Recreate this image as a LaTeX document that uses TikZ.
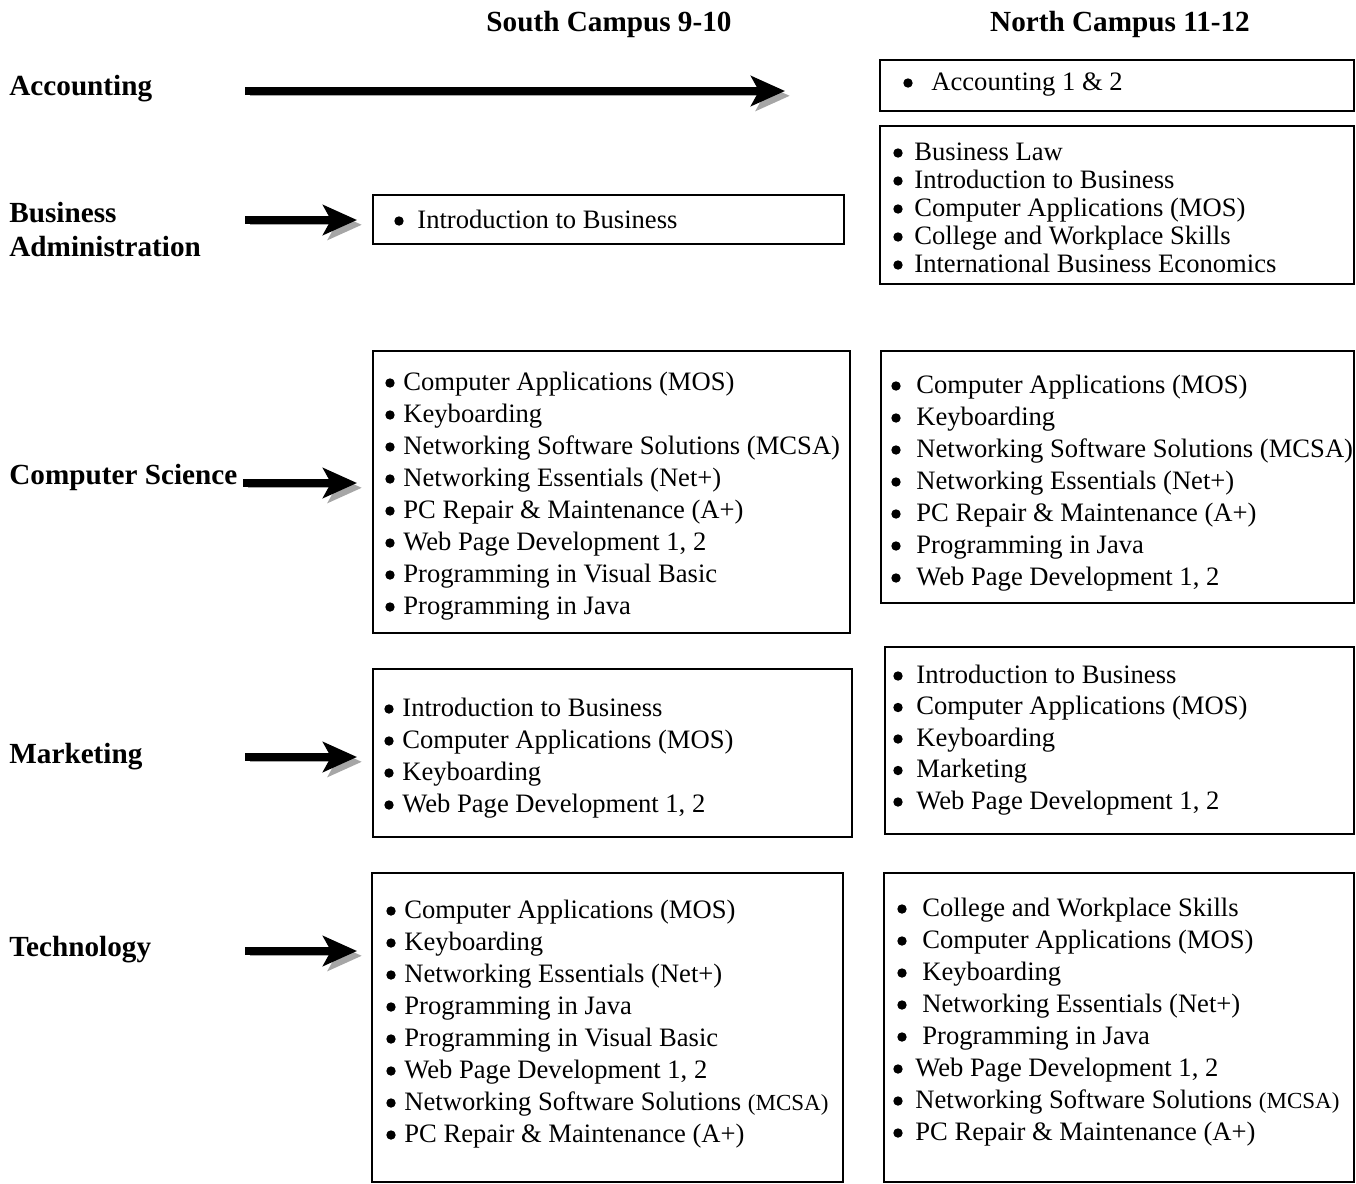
\documentclass[tikz,border=0pt]{standalone}
\usepackage{fontspec}
\setmainfont{Liberation Serif}
\usetikzlibrary{arrows.meta}

\tikzset{
  box/.style={draw, line width=1.3pt, anchor=north west, inner sep=0pt, outer sep=0pt},
  item/.style={anchor=base west, inner sep=0pt, font=\fontsize{13.3}{16}\selectfont},
  dot/.style={radius=4.7},
  lab/.style={anchor=base west, inner sep=0pt, font=\fontsize{14.6}{18}\selectfont\bfseries},
  arr/.style={line width=3.6pt, -{Stealth[length=17pt,width=15pt,inset=4pt]},
    preaction={draw=gray!70, transform canvas={shift={(2.4pt,-2.4pt)}}}}
}

\begin{document}
\begin{tikzpicture}[x=0.5pt, y=-0.5pt]
\useasboundingbox (0,0) rectangle (1356,1184);

% column heads
\node (hSouth) at (609,31) [lab, anchor=base] {South Campus 9-10};
\node (hNorth) at (1120,31) [lab, anchor=base] {North Campus 11-12};

% programs
\node (lAcc) at (9,95) [lab] {Accounting};
\node (lBus) at (9,222) [lab] {Business};
\node (lAdm) at (9,256) [lab] {Administration};
\node (lCS) at (9,484) [lab] {Computer Science};
\node (lMkt) at (9,763) [lab] {Marketing};
\node (lTech) at (9,956) [lab] {Technology};

% boxes
\node (accN) at (880,60) [box, minimum width=237pt, minimum height=25.5pt] {};
\node (busS) at (373,195) [box, minimum width=235.5pt, minimum height=24.5pt] {};
\node (busN) at (880,126) [box, minimum width=237pt, minimum height=79pt] {};
\node (csS) at (373,351) [box, minimum width=238.5pt, minimum height=141pt] {};
\node (csN) at (881,351) [box, minimum width=236.5pt, minimum height=126pt] {};
\node (mktS) at (373,669) [box, minimum width=239.5pt, minimum height=84pt] {};
\node (mktN) at (885,647) [box, minimum width=234.5pt, minimum height=93.5pt] {};
\node (techS) at (372,873) [box, minimum width=235.5pt, minimum height=154.5pt] {};
\node (techN) at (884,873) [box, minimum width=235pt, minimum height=154.5pt] {};

% course lists, bullets are drawn dots
\node (accN-0) at (931,90) [item] {Accounting 1 \& 2};
\fill (908,83) circle [dot];
\node (busS-0) at (417,228) [item] {Introduction to Business};
\fill (399,221) circle [dot];
\foreach \t [count=\i from 0] in {Business Law, Introduction to Business,
    Computer Applications (MOS), College and Workplace Skills,
    International Business Economics} {
  \node (busN-\i) at (914,160+28*\i) [item] {\t};
  \fill (898,153+28*\i) circle [dot];
}
\foreach \t [count=\i from 0] in {Computer Applications (MOS), Keyboarding,
    Networking Software Solutions (MCSA), Networking Essentials (Net+),
    PC Repair \& Maintenance (A+), {Web Page Development 1, 2},
    Programming in Visual Basic, Programming in Java} {
  \node (csS-\i) at (403,390+32*\i) [item] {\t};
  \fill (390,383+32*\i) circle [dot];
}
\foreach \t [count=\i from 0] in {Computer Applications (MOS), Keyboarding,
    Networking Software Solutions (MCSA), Networking Essentials (Net+),
    PC Repair \& Maintenance (A+), Programming in Java,
    {Web Page Development 1, 2}} {
  \node (csN-\i) at (916,393+32*\i) [item] {\t};
  \fill (896,386+32*\i) circle [dot];
}
\foreach \t [count=\i from 0] in {Introduction to Business,
    Computer Applications (MOS), Keyboarding, {Web Page Development 1, 2}} {
  \node (mktS-\i) at (402,716+32*\i) [item] {\t};
  \fill (389,709+32*\i) circle [dot];
}
\foreach \t [count=\i from 0] in {Introduction to Business,
    Computer Applications (MOS), Keyboarding, Marketing,
    {Web Page Development 1, 2}} {
  \node (mktN-\i) at (916,683+31.5*\i) [item] {\t};
  \fill (898,676+31.5*\i) circle [dot];
}
\foreach \t [count=\i from 0] in {Computer Applications (MOS), Keyboarding,
    Networking Essentials (Net+), Programming in Java,
    Programming in Visual Basic, {Web Page Development 1, 2},
    {Networking Software Solutions {\fontsize{11.5}{14}\selectfont(MCSA)}},
    PC Repair \& Maintenance (A+)} {
  \node (techS-\i) at (404,918+32*\i) [item] {\t};
  \fill (391,911+32*\i) circle [dot];
}
\foreach \t [count=\i from 0] in {College and Workplace Skills,
    Computer Applications (MOS), Keyboarding,
    Networking Essentials (Net+), Programming in Java} {
  \node (techN-\i) at (922,916+32*\i) [item] {\t};
  \fill (902,909+32*\i) circle [dot];
}
\foreach \t [count=\i from 5] in {{Web Page Development 1, 2},
    {Networking Software Solutions {\fontsize{11.5}{14}\selectfont(MCSA)}},
    PC Repair \& Maintenance (A+)} {
  \node (techN-\i) at (915,916+32*\i) [item] {\t};
  \fill (898,909+32*\i) circle [dot];
}

% arrows
\coordinate (aAcc) at (245,91);
\coordinate (aBus) at (245,220);
\coordinate (aCS) at (243,483);
\coordinate (aMkt) at (245,757);
\coordinate (aTech) at (245,951);
\draw[arr, shorten >=47.5pt] (aAcc) -- (aAcc -| accN.west);
\draw[arr, shorten >=8pt] (aBus) -- (aBus -| busS.west);
\draw[arr, shorten >=8pt] (aCS) -- (aCS -| csS.west);
\draw[arr, shorten >=8pt] (aMkt) -- (aMkt -| mktS.west);
\draw[arr, shorten >=7.5pt] (aTech) -- (aTech -| techS.west);
\end{tikzpicture}
\end{document}
